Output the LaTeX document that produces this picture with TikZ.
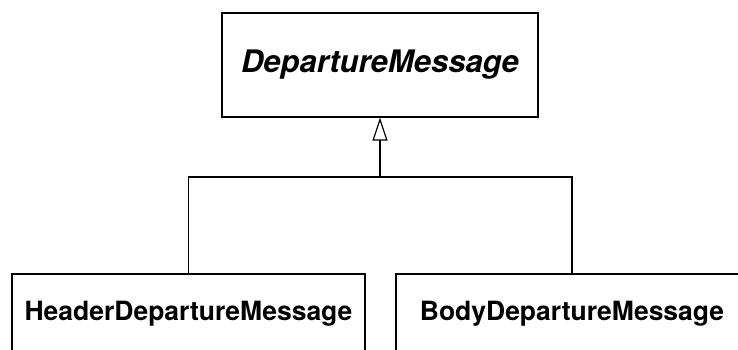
\documentclass[tikz,border=0pt]{standalone}
\usepackage{fontspec}
\setmainfont{TeX Gyre Heros}
\usetikzlibrary{arrows.meta}
\begin{document}
\begin{tikzpicture}[x=1pt,y=1pt,
  classbox/.style={draw=black, line width=1.3pt, fill=white, inner sep=0pt},
  link/.style={draw=black, line width=1.2pt},
  inherit/.style={link, -{Triangle[open, length=23pt, width=15pt, line width=1.2pt]}}]
  \useasboundingbox (0,0) rectangle (738,350);
  \clip (0,0) rectangle (738,350);
  \fill[white] (0,0) rectangle (738,350);
  % abstract base class
  \node[classbox, minimum width=316pt, minimum height=104pt] (base) at (380,285)
    {\fontsize{31}{37}\selectfont\bfseries\itshape DepartureMessage};
  % concrete subclasses
  \node[classbox, minimum width=353pt, minimum height=80pt] (header) at (188.5,36)
    {\fontsize{26.5}{32}\selectfont\bfseries HeaderDepartureMessage};
  \node[classbox, minimum width=352pt, minimum height=80pt] (body) at (572,36)
    {\fontsize{26.5}{32}\selectfont\bfseries BodyDepartureMessage};
  % generalization tree
  \coordinate (join) at (380,173);
  \draw[link] (header.north) |- (join) -| (body.north);
  \draw[inherit] (join) -- (base.south);
\end{tikzpicture}
\end{document}
